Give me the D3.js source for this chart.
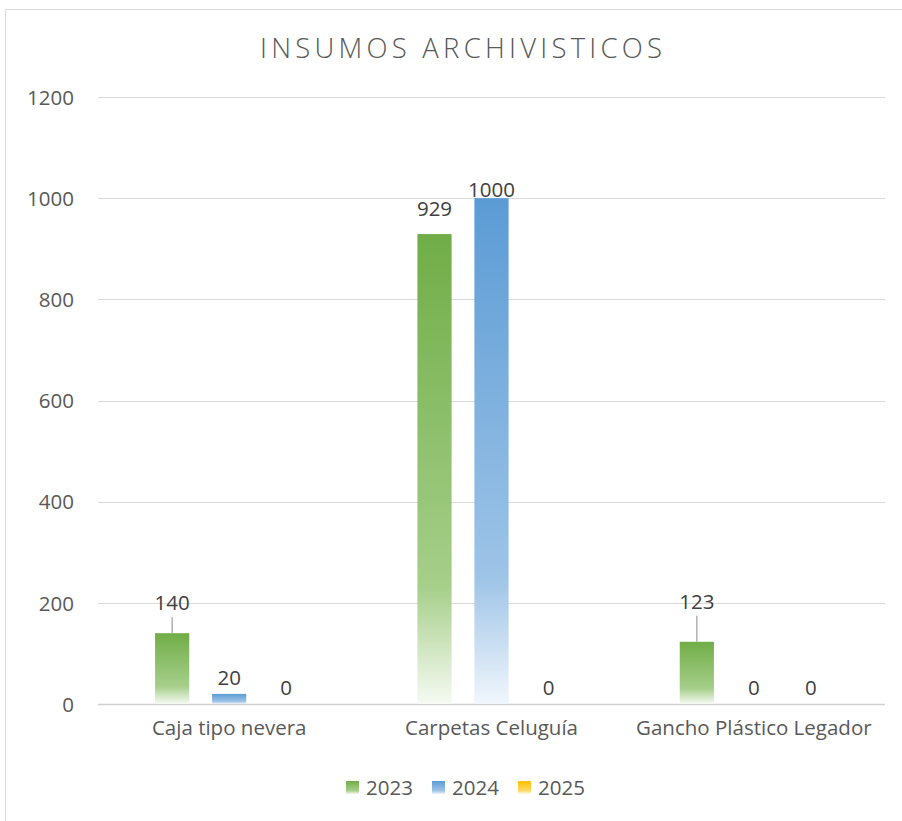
<!DOCTYPE html>
<html><head><meta charset="utf-8">
<script src="https://cdn.jsdelivr.net/npm/d3@7"></script>
<style>body{margin:0;background:#fff}svg{display:block}</style>
</head><body>
<script>
const categories = ["Caja tipo nevera", "Carpetas Celuguía", "Gancho Plástico Legador"];
const seriesNames = ["2023", "2024", "2025"];
const values2023 = [140, 929, 123];
const values2024 = [20, 1000, 0];
const values2025 = [0, 0, 0];
const yTicks = [0, 200, 400, 600, 800, 1000, 1200];
const title = "INSUMOS ARCHIVISTICOS";

(function () {
const W = 902, H = 821;
const colors = {"2023": ["#70ad47", "#a6cf8a", "#f6faf3"], "2024": ["#5b9bd5", "#9ec4e7", "#f1f6fc"], "2025": ["#ffc000", "#ffd966", "#fffbee"]};
// manual label offsets (px above bar top) as placed in the original chart
const labelLift = {"2023": [30, 25, 40], "2024": [16, 8, 16], "2025": [16, 16, 16]};
const leader = {"2023": [true, false, true]};

const svg = d3.select("body").append("svg").attr("width", W).attr("height", H);
const defs = svg.append("defs");
seriesNames.forEach(s => {
  const g = defs.append("linearGradient").attr("id", "g" + s).attr("x1", 0).attr("y1", 0).attr("x2", 0).attr("y2", 1);
  g.append("stop").attr("offset", 0).attr("stop-color", colors[s][0]);
  g.append("stop").attr("offset", 0.75).attr("stop-color", colors[s][1]);
  g.append("stop").attr("offset", 1).attr("stop-color", colors[s][2]);
});

svg.append("rect").attr("x", 5.5).attr("y", 9.5).attr("width", W - 5).attr("height", H - 9)
  .attr("fill", "#fff").attr("stroke", "#d9d9d9");

const font = "'Open Sans', 'Noto Sans', sans-serif";
const fs = 20.5;
const pLeft = 98, pRight = 885, pTop = 97, pBottom = 704;

svg.append("text").attr("x", 461).attr("y", 58).attr("text-anchor", "middle")
  .attr("font-family", font).attr("font-weight", 300).attr("font-size", 27.5)
  .attr("fill", "#595959").attr("textLength", 402).attr("lengthAdjust", "spacing").text(title);

const y = d3.scaleLinear().domain([0, 1200]).range([pBottom, pTop]);
const x0 = d3.scaleBand().domain(categories).range([pLeft, pRight]);
const x1 = d3.scaleBand().domain(seriesNames).range([-85.5, 85.5]).paddingInner(0.4).paddingOuter(0.2);

// grid
svg.append("g").selectAll("line").data(yTicks).join("line")
  .attr("x1", pLeft).attr("x2", pRight)
  .attr("y1", d => Math.round(y(d)) + 0.5).attr("y2", d => Math.round(y(d)) + 0.5)
  .attr("stroke", d => d === 0 ? "#d0d0d0" : "#d9d9d9").attr("stroke-width", d => d === 0 ? 1.5 : 1);

// y axis labels
const yAxis = d3.axisLeft(y).tickValues(yTicks).tickFormat(d3.format("d")).tickSize(0).tickPadding(0);
const ya = svg.append("g").attr("transform", `translate(${74},0)`).call(yAxis);
ya.select(".domain").remove();
ya.selectAll("text").attr("font-family", font).attr("font-size", fs).attr("fill", "#595959").attr("dy", "0.35em");

// x axis labels
const xAxis = d3.axisBottom(x0).tickSize(0).tickPadding(0);
const xa = svg.append("g").attr("transform", `translate(0,${pBottom + 16})`).call(xAxis);
xa.select(".domain").remove();
xa.selectAll("text").attr("font-family", font).attr("font-size", fs).attr("fill", "#595959").attr("dy", "0.71em");

const seriesVals = {"2023": values2023, "2024": values2024, "2025": values2025};
const bars = [];
categories.forEach((c, i) => seriesNames.forEach(s => bars.push({c, i, s, v: seriesVals[s][i]})));

const cx = d => x0(d.c) + x0.bandwidth() / 2 + x1(d.s);
svg.append("g").selectAll("rect").data(bars.filter(d => d.v > 0)).join("rect")
  .attr("x", cx).attr("width", x1.bandwidth())
  .attr("y", d => y(d.v)).attr("height", d => y(0) - y(d.v))
  .attr("fill", d => `url(#g${d.s})`);

// leader lines
svg.append("g").selectAll("line").data(bars.filter(d => leader[d.s] && leader[d.s][d.i])).join("line")
  .attr("x1", d => cx(d) + x1.bandwidth() / 2).attr("x2", d => cx(d) + x1.bandwidth() / 2)
  .attr("y1", d => y(d.v) - labelLift[d.s][d.i] + 14).attr("y2", d => y(d.v))
  .attr("stroke", "#a6a6a6").attr("stroke-width", 1.3);

// data labels
svg.append("g").selectAll("text").data(bars).join("text")
  .attr("x", d => cx(d) + x1.bandwidth() / 2)
  .attr("y", d => y(d.v) - labelLift[d.s][d.i])
  .attr("text-anchor", "middle").attr("dy", "0.35em")
  .attr("font-family", font).attr("font-size", fs).attr("fill", "#404040")
  .text(d => d.v);

// legend
const lg = svg.append("g").attr("transform", "translate(346,781)");
seriesNames.forEach((s, k) => {
  const g = lg.append("g").attr("transform", `translate(${k * 86},0)`);
  g.append("rect").attr("width", 13).attr("height", 13).attr("fill", `url(#g${s})`);
  g.append("text").attr("x", 20).attr("y", 7).attr("dy", "0.35em")
    .attr("font-family", font).attr("font-size", fs).attr("fill", "#595959").text(s);
});
})();
</script>
</body></html>
